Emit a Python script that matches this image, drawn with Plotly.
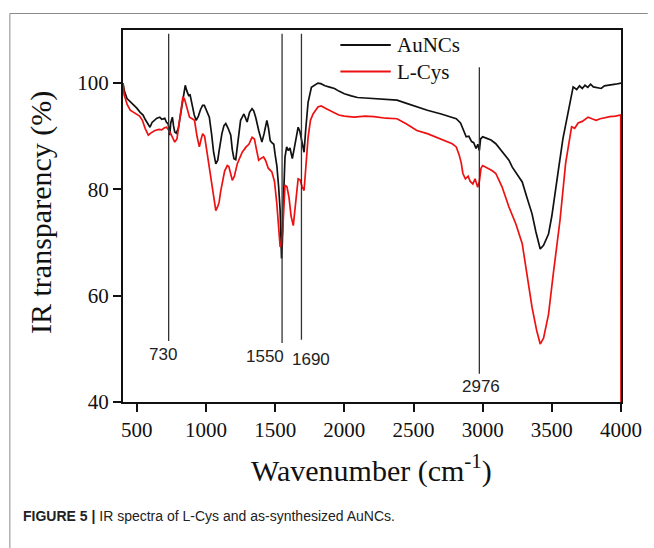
import plotly.graph_objects as go

# ---------------- data ----------------
wn_aunc = [400, 410, 429, 450, 476, 500, 524, 545, 560, 580, 595, 610, 631, 645, 666, 680, 702, 715, 726, 733,
           738, 745, 757, 765, 774, 785, 800, 821, 840, 850, 862, 874, 885, 900, 915, 929, 945, 960, 975, 988,
           1000, 1024, 1040, 1055, 1071, 1085, 1095, 1115, 1130, 1143, 1160, 1179, 1190, 1202, 1215, 1230, 1250,
           1262, 1274, 1285, 1297, 1315, 1333, 1345, 1360, 1381, 1392, 1404, 1420, 1440, 1452, 1464, 1476, 1490,
           1500, 1512, 1525, 1536, 1546, 1552, 1559, 1571, 1583, 1595, 1607, 1624, 1640, 1655, 1666, 1678, 1690,
           1700, 1709, 1720, 1738, 1762, 1790, 1809, 1830, 1860, 1900, 1929, 1960, 2000, 2050, 2095, 2150, 2238,
           2300, 2381, 2450, 2524, 2600, 2700, 2780, 2809, 2840, 2857, 2870, 2881, 2900, 2920, 2935, 2952, 2965,
           2976, 2985, 3000, 3030, 3060, 3095, 3130, 3160, 3190, 3214, 3250, 3286, 3320, 3357, 3385, 3416, 3440,
           3460, 3476, 3500, 3520, 3547, 3580, 3619, 3640, 3654, 3680, 3700, 3720, 3740, 3760, 3780, 3800, 3830,
           3857, 3880, 3920, 3960, 4000]
t_aunc = [100.0, 98.5, 97.1, 96.6, 95.8, 95.3, 94.5, 94.0, 93.2, 92.3, 91.7, 92.6, 93.0, 93.4, 93.6, 93.2, 93.4,
          92.6, 92.4, 91.0, 90.2, 92.5, 93.6, 92.0, 90.8, 90.6, 91.5, 94.9, 98.5, 99.6, 98.5, 97.7, 97.8, 96.0,
          94.0, 93.0, 93.8, 95.0, 95.8, 95.8, 95.0, 93.6, 90.5, 87.0, 84.8, 85.5, 87.3, 90.5, 92.0, 92.4, 91.5,
          90.2, 87.5, 85.8, 85.6, 89.0, 93.0, 93.6, 94.2, 93.5, 92.7, 94.5, 95.2, 94.8, 93.5, 91.1, 89.8, 88.9,
          90.5, 93.0, 91.5, 89.2, 88.8, 88.5, 86.5, 84.5, 80.5, 76.0, 67.0, 70.0, 77.3, 86.1, 88.0, 87.3, 87.8,
          85.8, 88.0, 90.5, 91.7, 91.0, 89.2, 87.8, 87.0, 91.0, 96.4, 99.2, 99.6, 100.0, 99.9, 99.5, 99.2, 99.0,
          98.5, 98.0, 97.6, 97.3, 97.2, 97.1, 96.9, 96.8, 96.2, 95.5, 94.9, 94.2, 93.6, 93.3, 92.5, 91.5, 90.5,
          89.9, 90.0, 89.0, 88.8, 87.7, 88.5, 87.3, 89.5, 89.9, 89.6, 89.3, 88.6, 87.5, 86.5, 85.5, 84.2, 82.8,
          81.4, 78.5, 75.4, 72.0, 68.8, 69.5, 70.5, 71.6, 75.0, 79.0, 83.6, 89.5, 94.9, 97.5, 99.3, 98.8, 99.5,
          99.0, 99.6, 99.2, 99.8, 99.3, 99.1, 99.0, 99.5, 99.6, 99.8, 100.0]

wn_lcys = [400, 408, 417, 430, 452, 475, 500, 520, 540, 560, 583, 600, 631, 660, 680, 700, 714, 730, 745, 760,
           774, 790, 810, 833, 845, 857, 870, 881, 900, 917, 935, 952, 965, 976, 990, 1010, 1030, 1047, 1060,
           1071, 1085, 1095, 1105, 1119, 1135, 1154, 1165, 1178, 1190, 1205, 1226, 1245, 1262, 1290, 1310, 1333,
           1350, 1365, 1381, 1395, 1416, 1430, 1450, 1476, 1495, 1512, 1525, 1536, 1545, 1555, 1571, 1585, 1600,
           1615, 1631, 1645, 1666, 1680, 1695, 1709, 1720, 1738, 1755, 1774, 1809, 1833, 1870, 1920, 1960, 2000,
           2071, 2150, 2214, 2300, 2381, 2450, 2524, 2600, 2700, 2780, 2809, 2830, 2845, 2857, 2875, 2895, 2910,
           2929, 2945, 2964, 2976, 2988, 3000, 3040, 3070, 3095, 3140, 3190, 3240, 3286, 3320, 3357, 3390, 3416,
           3440, 3460, 3476, 3510, 3540, 3559, 3600, 3630, 3643, 3665, 3690, 3720, 3762, 3790, 3820, 3850, 3880,
           3920, 3960, 3998, 4000]
t_lcys = [100.0, 97.8, 97.1, 96.0, 94.9, 94.5, 94.2, 93.8, 93.0, 91.5, 90.2, 90.6, 91.1, 91.3, 91.2, 91.6, 91.7,
          91.2, 90.5, 89.8, 88.9, 89.5, 93.0, 97.4, 97.0, 95.8, 94.5, 93.6, 93.3, 93.0, 90.0, 88.0, 89.5, 90.5,
          90.0, 86.5, 83.0, 80.0, 77.0, 76.0, 76.8, 77.6, 79.5, 81.7, 83.5, 84.5, 84.3, 83.0, 81.7, 82.5, 84.8,
          86.0, 87.0, 88.0, 88.5, 89.8, 89.5, 87.5, 85.5, 85.8, 86.1, 85.5, 84.0, 83.3, 81.5, 77.3, 73.5, 69.2,
          69.5, 72.5, 80.8, 80.5, 78.5, 75.0, 73.2, 76.5, 82.0, 81.8, 80.5, 79.8, 83.5, 89.8, 93.0, 94.2, 95.5,
          95.7, 95.2, 94.5, 94.0, 93.8, 93.6, 93.8, 93.7, 93.4, 93.3, 92.3, 91.1, 90.5, 89.5, 88.6, 88.0, 86.5,
          85.0, 83.0, 82.0, 82.5, 81.5, 81.0, 82.0, 80.4, 81.5, 84.0, 84.5, 84.0, 83.5, 83.0, 80.5, 76.7, 73.5,
          69.8, 64.0, 57.8, 53.5, 50.9, 52.0, 54.5, 56.5, 64.0, 70.5, 74.2, 85.0, 90.0, 91.8, 91.5, 92.5, 92.8,
          93.6, 93.3, 93.0, 93.3, 93.5, 93.7, 93.8, 94.0, 40.0]

series_names = ["AuNCs", "L-Cys"]
series_colors = ["#111111", "#ee1111"]

peak_positions = [730, 1550, 1690, 2976]
peak_labels = ["730", "1550", "1690", "2976"]
peak_line_top = [109.3, 109.3, 109.3, 103.0]
peak_line_bottom = [51.5, 51.1, 51.7, 45.3]
peak_label_x = [686, 1423, 1758, 2986]
peak_label_y = [49.0, 48.5, 48.0, 43.0]

x_ticks = [500, 1000, 1500, 2000, 2500, 3000, 3500, 4000]
y_ticks = [40, 60, 80, 100]

SERIF = "Liberation Serif, Times New Roman, serif"
SANS = "Liberation Sans, Arial, sans-serif"

fig = go.Figure()
for wn, t, name, col in [(wn_aunc, t_aunc, series_names[0], series_colors[0]),
                         (wn_lcys, t_lcys, series_names[1], series_colors[1])]:
    fig.add_trace(go.Scatter(x=wn, y=t, mode="lines", name=name,
                             line=dict(color=col, width=1.7), showlegend=False))

# peak marker lines and labels
for xp, top, bot, lab, lx, ly in zip(peak_positions, peak_line_top, peak_line_bottom,
                                      peak_labels, peak_label_x, peak_label_y):
    fig.add_shape(type="line", xref="x", yref="y", x0=xp, x1=xp, y0=bot, y1=top,
                  line=dict(color="#333333", width=1.3))
    fig.add_annotation(x=lx, y=ly, xref="x", yref="y", text=lab, showarrow=False,
                       font=dict(family=SANS, size=17, color="#222222"))

# manual legend (paper coordinates)
W, H = 654, 548
L, R, T, B = 123, 27, 30, 146
pw, ph = W - L - R, H - T - B


def px_to_paper(px, py):
    return (px - L) / pw, (H - B - py) / ph


for i, (name, col) in enumerate(zip(series_names, series_colors)):
    py = 45 + i * 26.5
    x0, y0 = px_to_paper(343, py)
    x1, _ = px_to_paper(394, py)
    fig.add_shape(type="line", xref="paper", yref="paper", x0=x0, x1=x1, y0=y0, y1=y0,
                  line=dict(color=col, width=1.8))
    tx, _ = px_to_paper(398, py)
    fig.add_annotation(x=tx, y=y0, xref="paper", yref="paper", text=name, showarrow=False,
                       xanchor="left", yanchor="middle",
                       font=dict(family=SERIF, size=21, color="#111111"))

# axis titles
ax, ay = px_to_paper(40, 212)
fig.add_annotation(x=ax, y=ay, xref="paper", yref="paper", text="IR transparency (%)",
                   showarrow=False, textangle=-90, xanchor="center", yanchor="middle",
                   font=dict(family=SERIF, size=30, color="#111111"))
bx, by = px_to_paper(374, 468)
fig.add_annotation(x=bx, y=by, xref="paper", yref="paper", text="Wavenumber (cm<sup>-1</sup>)",
                   showarrow=False, xanchor="center", yanchor="middle",
                   font=dict(family=SERIF, size=30, color="#111111"))

# caption
cx, cy = px_to_paper(20, 516)
fig.add_annotation(x=cx, y=cy, xref="paper", yref="paper",
                   text="<b>FIGURE 5 |</b> IR spectra of L-Cys and as-synthesized AuNCs.",
                   showarrow=False, xanchor="left", yanchor="middle",
                   font=dict(family=SANS, size=14, color="#222222"))

# outer figure border (top and left edges)
bx0, by0 = px_to_paper(8.5, 13.5)
_, by1 = px_to_paper(8.5, 548)
bx1, _ = px_to_paper(654, 13.5)
fig.add_shape(type="line", xref="paper", yref="paper", x0=bx0, x1=bx1, y0=by0, y1=by0,
              line=dict(color="#8a8a8a", width=1))
fig.add_shape(type="line", xref="paper", yref="paper", x0=bx0, x1=bx0, y0=by0, y1=by1,
              line=dict(color="#8a8a8a", width=1))

fig.update_layout(
    width=W, height=H,
    margin=dict(l=L, r=R, t=T, b=B),
    paper_bgcolor="white", plot_bgcolor="white",
    showlegend=False,
    xaxis=dict(range=[400, 4000], tickvals=x_ticks, ticks="outside", ticklen=8, tickwidth=1.5,
               tickcolor="#111111", showline=True, linecolor="#111111", linewidth=2, mirror=True,
               showgrid=False, zeroline=False, layer="below traces",
               tickfont=dict(family=SERIF, size=21, color="#111111")),
    yaxis=dict(range=[40, 110], tickvals=y_ticks, ticks="outside", ticklen=8, tickwidth=1.5,
               tickcolor="#111111", showline=True, linecolor="#111111", linewidth=2, mirror=True,
               showgrid=False, zeroline=False, layer="below traces",
               tickfont=dict(family=SERIF, size=21, color="#111111")),
)

fig.write_html("out.html")
